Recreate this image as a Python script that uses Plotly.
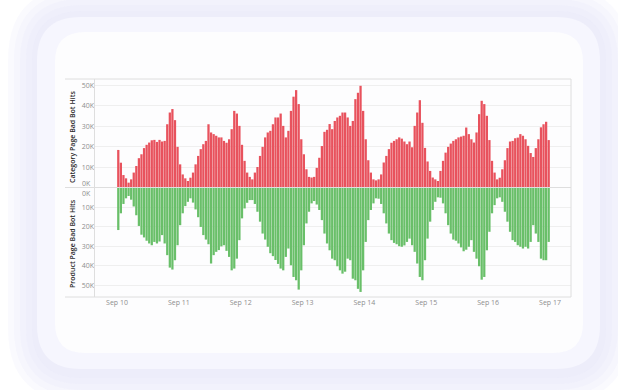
import plotly.graph_objects as go
import pandas as pd

# ---------------- data ----------------
days = ["2019-09-10", "2019-09-11", "2019-09-12", "2019-09-13",
        "2019-09-14", "2019-09-15", "2019-09-16", "2019-09-17"]
tick_labels_x = ["Sep 10", "Sep 11", "Sep 12", "Sep 13", "Sep 14", "Sep 15", "Sep 16", "Sep 17"]

# Category Page Bad Bot Hits (thousands), hourly, Sep 10 .. Sep 16
category_hits = [
    18.5, 12.3, 6.3, 4.7, 2.6, 4.2, 7.5, 10.7, 14.5, 16.4, 19.4, 21, 22.1, 23.2, 23.4, 22.4, 23.4, 22.6, 22.9, 31, 36.7, 38.4, 33, 20,
    11.5, 6.6, 4.7, 3.4, 5, 7.5, 11.5, 15.6, 18.9, 21.3, 22.9, 31, 27, 26.2, 25.4, 24.6, 24.6, 22.9, 22, 23.7, 28.6, 37.5, 36.2, 30.2,
    21, 13.2, 7.5, 5.4, 4.2, 7.5, 10.2, 15.6, 20, 24.6, 27, 27.8, 31, 34.3, 34.3, 36.2, 30.2, 24.6, 27.8, 37.5, 44.4, 47.6, 40.8, 23.7,
    16.4, 9.1, 5.4, 5.1, 5.4, 9.8, 14.7, 20.4, 27.3, 28.3, 31.1, 28.6, 32.6, 34.3, 35.1, 36.7, 36.7, 34.3, 30.2, 32.6, 43.2, 46.3, 49.7, 37.5,
    23.7, 13.5, 7.5, 4.2, 3.7, 4.2, 6.6, 12.4, 15.6, 18.9, 22, 22.9, 23.7, 24.6, 24, 22.6, 21.3, 22.6, 19.8, 30.2, 36.7, 42.7, 31.7, 19.5,
    12.9, 8.3, 5.1, 4.2, 3.4, 8.3, 13.2, 17.2, 20, 21.6, 22.9, 23.7, 24.6, 25, 25.4, 29.4, 26.2, 23.7, 22.1, 27, 35.9, 42.4, 40.8, 35.1,
    23.3, 13.2, 7.5, 4.2, 5, 9.1, 13.5, 19.4, 22.6, 22.9, 24.2, 24.5, 26.2, 25.4, 23.7, 20.5, 17, 15.1, 19.4, 23.7, 29.5, 31, 32.2, 23.3,
]

# Product Page Bad Bot Hits (thousands), hourly, Sep 10 .. Sep 16
product_hits = [
    21.6, 13, 8.2, 5.3, 4.1, 6, 9.5, 14, 19.5, 24, 25.4, 27.1, 28.5, 29.4, 27.7, 28.5, 27.5, 24.2, 28.5, 34.5, 40.9, 41.9, 37.1, 29.4,
    19.1, 13, 9.3, 7.1, 5.3, 7.5, 11, 15, 20, 24.2, 26.5, 28.9, 38.8, 34.5, 32.8, 31.9, 30, 29.4, 32.3, 35.4, 42.3, 41.4, 36.3, 26.8,
    15.6, 10.5, 7.6, 6.2, 6.2, 8.2, 12.2, 17.3, 23.4, 26.5, 30.2, 33.5, 35, 37, 39, 41.4, 42.3, 35.4, 31.1, 39.7, 45.7, 47.4, 52.2, 42.3,
    29.4, 18.2, 12.2, 7.9, 6.7, 8.5, 11.3, 16.5, 23.4, 28.5, 32, 36.3, 37.1, 40.2, 42.3, 44, 43, 36.3, 37.1, 46.6, 47.4, 51.8, 53.4, 42.3,
    27.7, 16.5, 11.3, 7.9, 5.3, 5.5, 8.2, 13, 18.2, 23.4, 26.8, 28.2, 28.9, 29.9, 30.2, 29.5, 27.7, 26, 29.4, 32.8, 38.8, 45.7, 47.4, 37.1,
    26, 17.3, 11.3, 7.1, 4.8, 5, 7.9, 13, 19.1, 23.4, 26.5, 27.1, 28.5, 30.5, 32.5, 31.7, 30.2, 26.8, 32.8, 36.3, 40.2, 47.1, 45.7, 32,
    22.5, 13, 8.8, 5.3, 4.8, 7.1, 12.2, 17.3, 22.5, 26.8, 27.7, 29.4, 30.2, 31.1, 30.2, 31.1, 27.7, 19.1, 23.4, 27.7, 36.3, 37.1, 37.1, 27.7,
]

y_tick_values = [10000, 20000, 30000, 40000, 50000]
y_tick_labels = ["10K", "20K", "30K", "40K", "50K"]
zero_label = "0K"

# hourly bar centres
hours = pd.date_range("2019-09-10 00:30", periods=len(category_hits), freq="h")
cat_vals = [v * 1000 for v in category_hits]
prod_vals = [-v * 1000 for v in product_hits]

# ---------------- geometry (pixels) ----------------
W, H = 618, 390
PL, PR, PT, PB = 95, 571, 79, 297  # plot area


def px(x):
    return (x - PL) / (PR - PL)


def py(y):
    return (PB - y) / (PB - PT)


def rrect(x0, y0, x1, y1, r):
    X0, X1 = px(x0), px(x1)
    Y0, Y1 = py(y0), py(y1)
    rx = r / (PR - PL)
    ry = r / (PB - PT)
    return (f"M {X0+rx},{Y0} L {X1-rx},{Y0} Q {X1},{Y0} {X1},{Y0-ry} "
            f"L {X1},{Y1+ry} Q {X1},{Y1} {X1-rx},{Y1} L {X0+rx},{Y1} "
            f"Q {X0},{Y1} {X0},{Y1+ry} L {X0},{Y0-ry} Q {X0},{Y0} {X0+rx},{Y0} Z")


shapes = []
# soft lavender glow around the card
for g in [30, 24, 18, 12, 6]:
    shapes.append(dict(type="path", xref="paper", yref="paper", layer="below",
                       path=rrect(38 - g, 17 - g, 600 + g, 372 + g, 44 + g),
                       fillcolor="rgba(228,226,250,0.18)", line=dict(width=0)))
# outer pale band
shapes.append(dict(type="path", xref="paper", yref="paper", layer="below",
                   path=rrect(37, 17, 600, 369, 44),
                   fillcolor="#f6f6fe", line=dict(width=0)))
# inner white card
shapes.append(dict(type="path", xref="paper", yref="paper", layer="below",
                   path=rrect(55, 32, 583, 353, 30),
                   fillcolor="#fdfdfe", line=dict(width=0)))
# frame lines
line_col = "#dedede"
for (x0, y0, x1, y1) in [(65, 79, 571, 79), (65, 187.5, 571, 187.5), (65, 297, 571, 297),
                         (94.5, 79, 94.5, 297), (571, 79, 571, 297)]:
    shapes.append(dict(type="line", xref="paper", yref="paper", layer="above",
                       x0=px(x0), y0=py(y0), x1=px(x1), y1=py(y1),
                       line=dict(color=line_col, width=1)))

fig = go.Figure()
fig.add_trace(go.Bar(x=hours, y=cat_vals, marker=dict(color="#e8525d", line=dict(width=0)),
                     xaxis="x", yaxis="y", name="Category Page Bad Bot Hits"))
fig.add_trace(go.Bar(x=hours, y=prod_vals, marker=dict(color="#69bf69", line=dict(width=0)),
                     xaxis="x", yaxis="y2", name="Product Page Bad Bot Hits"))

font_family = "Open Sans, Lato, sans-serif"
tick_font = dict(family=font_family, size=7, color="#8e8e8e")
title_font = dict(family=font_family, size=7, color="#2a2a2a", weight=600)

fig.update_layout(
    width=W, height=H,
    margin=dict(l=PL, r=W - PR, t=PT, b=H - PB, pad=0),
    paper_bgcolor="#ffffff",
    plot_bgcolor="rgba(0,0,0,0)",
    showlegend=False,
    bargap=0.12,
    shapes=shapes,
    xaxis=dict(
        type="date",
        range=["2019-09-09 15:28", "2019-09-17 08:09"],
        tickvals=days, ticktext=tick_labels_x,
        tickfont=tick_font, showgrid=False, zeroline=False,
        showline=False, ticks="", anchor="y2", automargin=False,
    ),
    yaxis=dict(
        domain=[0.5, 1.0], range=[0, 53000],
        tickvals=y_tick_values, ticktext=y_tick_labels,
        tickfont=tick_font, showgrid=True, gridcolor="#efefef", gridwidth=1,
        zeroline=False, showline=False, ticks="", automargin=False,
    ),
    yaxis2=dict(
        domain=[0.0, 0.5], range=[-56000, 0],
        tickvals=[-v for v in y_tick_values], ticktext=y_tick_labels,
        tickfont=tick_font, showgrid=True, gridcolor="#efefef", gridwidth=1,
        zeroline=False, showline=False, ticks="", automargin=False,
    ),
    annotations=[
        dict(text="Category Page Bad Bot Hits", xref="paper", yref="paper",
             x=px(72), y=py(137), textangle=-90, showarrow=False,
             xanchor="center", yanchor="middle", font=title_font),
        dict(text="Product Page Bad Bot Hits", xref="paper", yref="paper",
             x=px(72), y=py(244), textangle=-90, showarrow=False,
             xanchor="center", yanchor="middle", font=title_font),
        dict(text=zero_label, xref="paper", yref="paper", x=px(92.5), y=py(183),
             xanchor="right", yanchor="middle", showarrow=False, font=tick_font),
        dict(text=zero_label, xref="paper", yref="paper", x=px(92.5), y=py(193),
             xanchor="right", yanchor="middle", showarrow=False, font=tick_font),
    ],
)

fig.write_html("out.html", config={"displayModeBar": False},
               post_script="document.body.style.margin='0';document.body.style.overflow='hidden';")
